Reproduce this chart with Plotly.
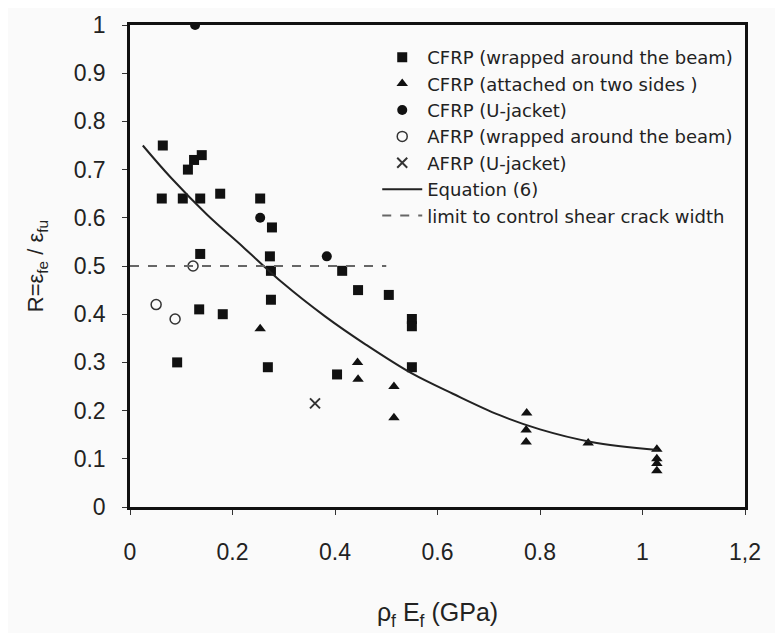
import plotly.graph_objects as go

# CFRP wrapped around the beam (squares)
sq_x = [0.064, 0.125, 0.14, 0.113, 0.062, 0.103, 0.137, 0.176, 0.254, 0.277, 0.273, 0.275, 0.137,
        0.414, 0.445, 0.505, 0.55, 0.55, 0.55, 0.135, 0.181, 0.092, 0.275, 0.269, 0.404]
sq_y = [0.75, 0.72, 0.73, 0.70, 0.64, 0.64, 0.64, 0.65, 0.64, 0.58, 0.52, 0.49, 0.525,
        0.49, 0.45, 0.44, 0.39, 0.375, 0.29, 0.41, 0.40, 0.30, 0.43, 0.29, 0.275]
# CFRP attached on two sides (triangles)
tri_x = [0.254, 0.444, 0.445, 0.515, 0.515, 0.774, 0.773, 0.773, 0.894, 1.028, 1.028, 1.028, 1.028]
tri_y = [0.37, 0.30, 0.265, 0.25, 0.185, 0.195, 0.16, 0.135, 0.133, 0.12, 0.10, 0.09, 0.075]
# CFRP U-jacket (filled circles)
cu_x = [0.127, 0.254, 0.384]
cu_y = [1.0, 0.60, 0.52]
# AFRP wrapped around the beam (open circles)
aw_x = [0.051, 0.088, 0.123]
aw_y = [0.42, 0.39, 0.50]
# AFRP U-jacket (x)
au_x = [0.361]
au_y = [0.215]
# Equation (6) curve
eq_x = [0.025, 0.08, 0.15, 0.22, 0.3, 0.38, 0.46, 0.55, 0.63, 0.72, 0.8, 0.9, 1.03]
eq_y = [0.75, 0.683, 0.607, 0.54, 0.463, 0.396, 0.337, 0.277, 0.235, 0.191, 0.161, 0.135, 0.118]
# limit to control shear crack width
lim_x = [0.0, 0.5]
lim_y = [0.5, 0.5]

x_ticks = [0, 0.2, 0.4, 0.6, 0.8, 1, 1.2]
x_ticklabels = ["0", "0.2", "0.4", "0.6", "0.8", "1", "1,2"]
y_ticks = [0, 0.1, 0.2, 0.3, 0.4, 0.5, 0.6, 0.7, 0.8, 0.9, 1]
y_ticklabels = ["0", "0.1", "0.2", "0.3", "0.4", "0.5", "0.6", "0.7", "0.8", "0.9", "1"]

FONT = "Liberation Sans, Arial"

fig = go.Figure()
fig.add_trace(go.Scatter(x=sq_x, y=sq_y, mode="markers", name="CFRP (wrapped around the beam)",
                         marker=dict(symbol="square", size=10, color="#111"), legendgroup="a"))
fig.add_trace(go.Scatter(x=tri_x, y=tri_y, mode="markers", name="CFRP (attached on two sides )",
                         marker=dict(symbol="triangle-up", size=10, color="#111"), legendgroup="b"))
fig.add_trace(go.Scatter(x=cu_x, y=cu_y, mode="markers", name="CFRP (U-jacket)",
                         marker=dict(symbol="circle", size=10, color="#111"), legendgroup="c"))
fig.add_trace(go.Scatter(x=aw_x, y=aw_y, mode="markers", name="AFRP (wrapped around the beam)",
                         marker=dict(symbol="circle-open", size=10, color="#333", line=dict(width=1.5)), legendgroup="d"))
fig.add_trace(go.Scatter(x=au_x, y=au_y, mode="markers", name="AFRP (U-jacket)",
                         marker=dict(symbol="x-thin-open", size=10, color="#333", line=dict(width=2)), legendgroup="e"))
fig.add_trace(go.Scatter(x=eq_x, y=eq_y, mode="lines", name="Equation (6)", line_shape="spline",
                         line=dict(color="#222", width=2), legendgroup="f"))
fig.add_trace(go.Scatter(x=lim_x, y=lim_y, mode="lines", name="limit to control shear crack width",
                         line=dict(color="#666", width=2, dash="dash"), legendgroup="g"))

axis_common = dict(showline=True, linecolor="#111", linewidth=2.5, mirror=True, showgrid=False,
                   zeroline=False, ticks="outside", ticklen=5, tickcolor="#333", automargin=False,
                   tickfont=dict(family=FONT, size=23, color="#222"))
fig.update_xaxes(range=[0, 1.2], tickvals=x_ticks, ticktext=x_ticklabels, ticklabelstandoff=18,
                 title=dict(text="ρ<sub>f</sub> E<sub>f</sub> (GPa)", standoff=40,
                            font=dict(family=FONT, size=25, color="#222")),
                 **axis_common)
fig.update_yaxes(range=[0, 1], tickvals=y_ticks, ticktext=y_ticklabels, ticklabelstandoff=12,
                 title=dict(text="R=ε<sub>fe</sub> / ε<sub>fu</sub>", standoff=24,
                            font=dict(family=FONT, size=22, color="#222")),
                 **axis_common)
fig.update_layout(
    width=783, height=633,
    margin=dict(l=122, r=46, t=17, b=134),
    paper_bgcolor="#fafafa", plot_bgcolor="#fafafa",
    showlegend=True,
    legend=dict(x=0.402, y=0.971, xanchor="left", yanchor="top", bgcolor="rgba(0,0,0,0)",
                font=dict(family="DejaVu Sans", size=18, color="#222"),
                tracegroupgap=0, itemwidth=40),
)
fig.write_html("out.html")
